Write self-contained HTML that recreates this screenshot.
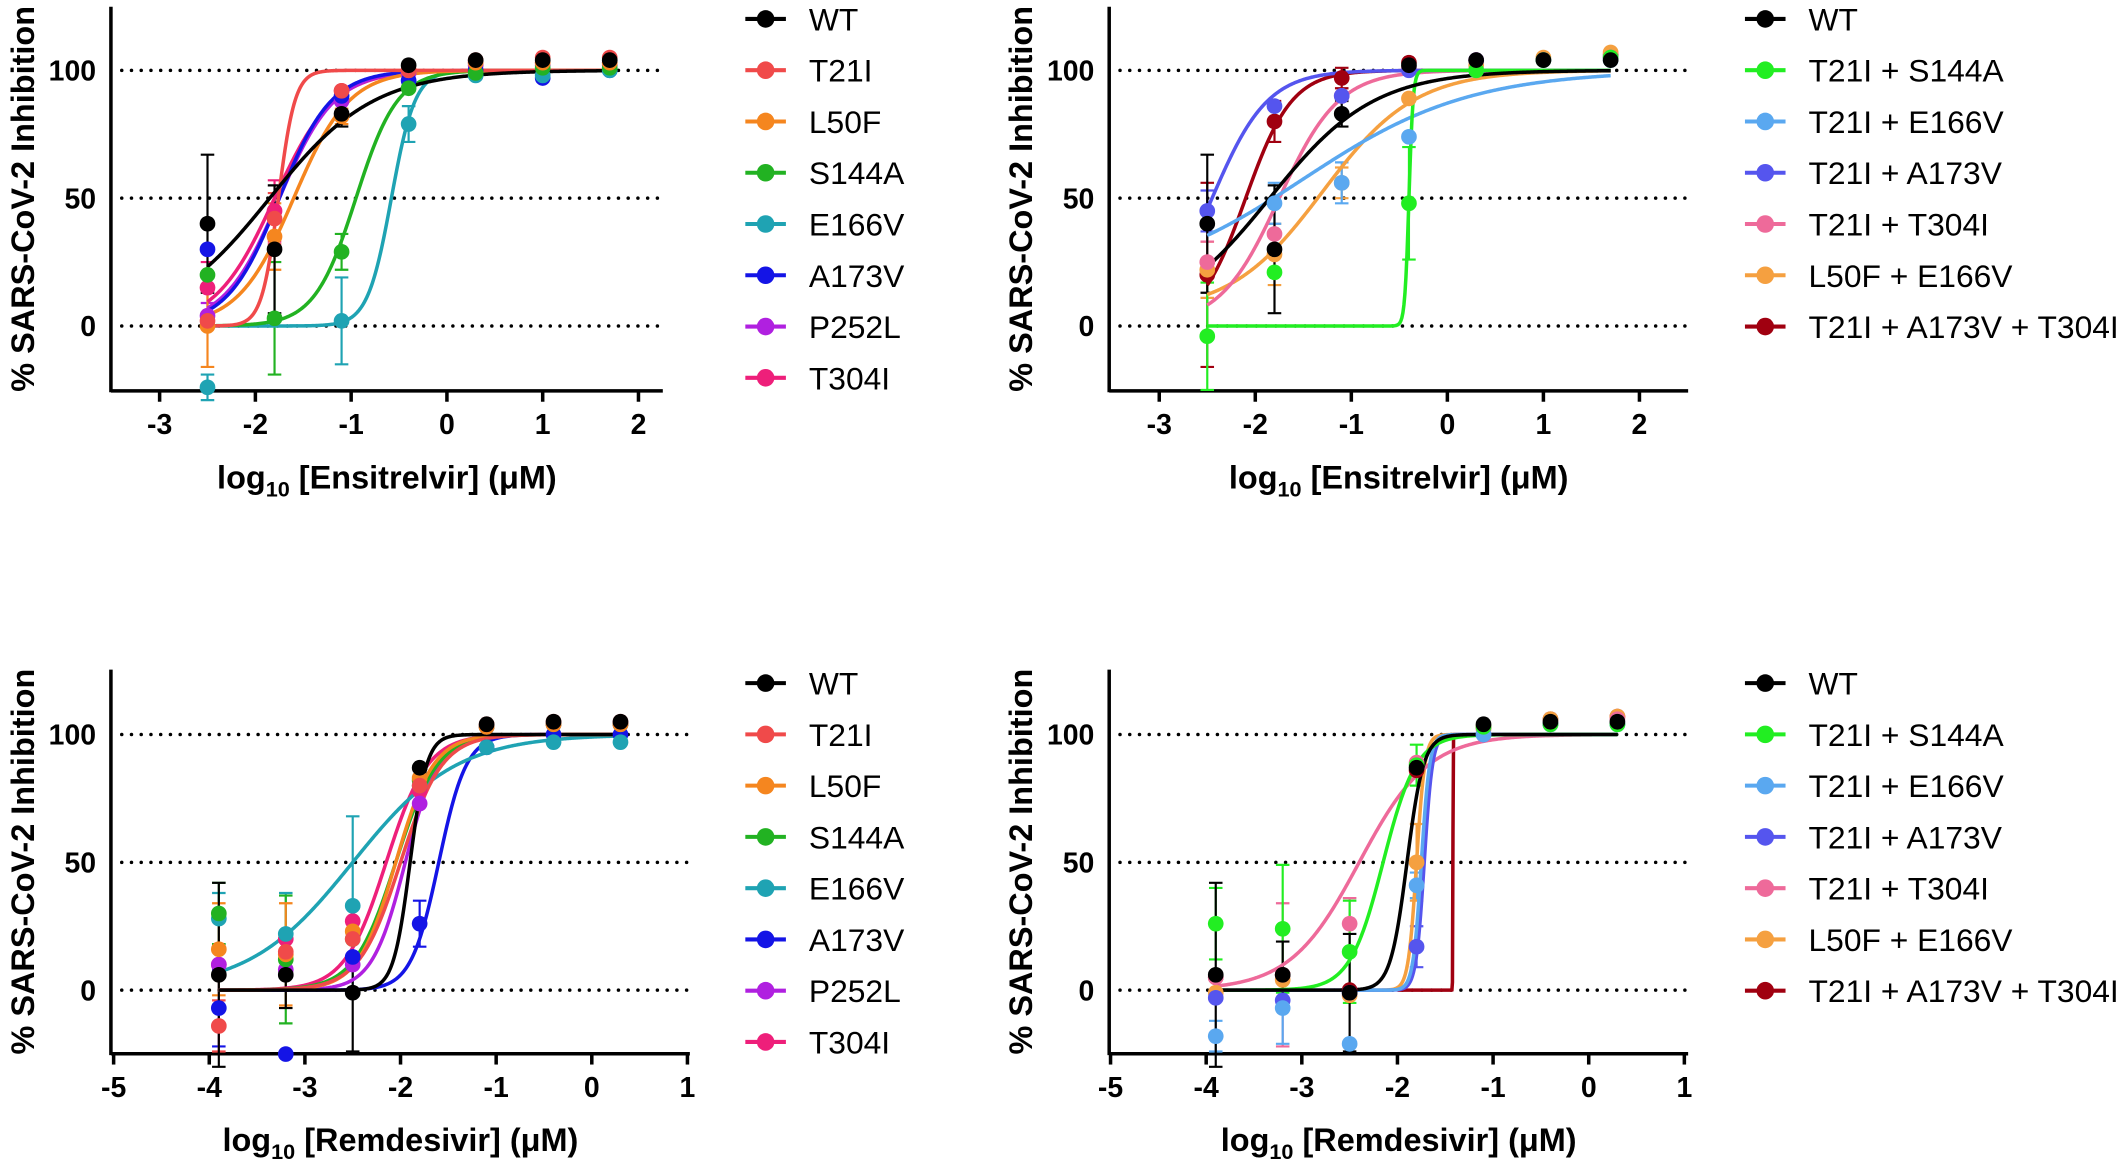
<!DOCTYPE html>
<html><head><meta charset="utf-8"><style>
html,body{margin:0;padding:0;background:#fff}
svg{display:block}
text{font-family:"Liberation Sans",Arial,sans-serif}
</style></head><body>
<svg id="s" width="2121" height="1161" viewBox="0 0 1568 858.3" xmlns="http://www.w3.org/2000/svg"></svg>
<script>
const S=document.getElementById('s');let out='';
function sig(x,b,t,e,h){return b+(t-b)/(1+Math.pow(10,(e-x)*h));}
function panel(P){
 const X=v=>P.x0+(v-P.xa)*P.xs, Y=v=>P.y100+(100-v)*(P.y0-P.y100)/100;
 [0,50,100].forEach(v=>{out+=`<line x1="${P.ax+8}" x2="${P.right}" y1="${Y(v)}" y2="${Y(v)}" stroke="#000" stroke-width="2.6" stroke-dasharray="0 7.2" stroke-linecap="round"/>`;});
 out+=`<line x1="${P.ax}" x2="${P.ax}" y1="${P.top}" y2="${P.bot+1}" stroke="#000" stroke-width="2.6"/>`;
 out+=`<line x1="${P.ax}" x2="${P.right}" y1="${P.bot}" y2="${P.bot}" stroke="#000" stroke-width="2.6"/>`;
 P.ticks.forEach(t=>{const xx=X(t);out+=`<line x1="${xx}" x2="${xx}" y1="${P.bot}" y2="${P.bot+8}" stroke="#000" stroke-width="2.6"/><text x="${xx}" y="${P.bot+32}" font-size="21" font-weight="bold" text-anchor="middle">${t}</text>`;});
 [0,50,100].forEach(v=>{out+=`<text x="${P.ax-11}" y="${Y(v)+7.5}" font-size="21" font-weight="bold" text-anchor="end">${v}</text>`;});
 out+=`<text transform="translate(${P.ax-57},${(P.top+P.bot)/2}) rotate(-90)" font-size="24" font-weight="bold" text-anchor="middle">% SARS-CoV-2 Inhibition</text>`;
 out+=`<text x="${(P.ax+P.right)/2}" y="${P.bot+72}" font-size="24" font-weight="bold" text-anchor="middle">log<tspan font-size="16" dy="6">10</tspan><tspan dy="-6"> [${P.drug}] (μM)</tspan></text>`;
 const ser=P.series.slice().reverse();
 ser.forEach(s=>{
  s.pts.forEach((p,i)=>{if(p==null||!s.err||!s.err[i])return;const e=s.err[i],xx=X(P.cx[i]);
   out+=`<path d="M${xx},${Y(p+e)}V${Y(p-e)}M${xx-5},${Y(p+e)}h10M${xx-5},${Y(p-e)}h10" stroke="${s.c}" stroke-width="1.6" fill="none"/>`;});
 });
 ser.forEach(s=>{
  let d='';const x1=s.from!=null?s.from:P.cx[0],x2=P.cx[P.cx.length-1];
  for(let k=0;k<=400;k++){const v=x1+(x2-x1)*k/400;const y=sig(v,s.b,s.t,s.e,s.h);d+=(k?'L':'M')+X(v).toFixed(2)+','+Y(y).toFixed(2);}
  out+=`<path d="${d}" stroke="${s.c}" stroke-width="2.6" fill="none"/>`;
 });
 ser.forEach(s=>{s.pts.forEach((p,i)=>{if(p==null)return;out+=`<circle cx="${X(P.cx[i])}" cy="${Y(p)}" r="5.8" fill="${s.c}"/>`;});});
 P.series.forEach((s,i)=>{const yy=P.ly+i*37.9;
  out+=`<line x1="${P.lx-15}" x2="${P.lx+15}" y1="${yy}" y2="${yy}" stroke="${s.c}" stroke-width="3"/><circle cx="${P.lx}" cy="${yy}" r="6.5" fill="${s.c}"/><text x="${P.lx+32}" y="${yy+8.5}" font-size="23.5">${s.n}</text>`;});
}
const ENS=[-2.5,-1.8,-1.1,-0.4,0.3,1.0,1.7], REM=[-3.9,-3.2,-2.5,-1.8,-1.1,-0.4,0.3];
const WTe={n:'WT',c:'#000',b:0,t:100,e:-1.85,h:0.8,pts:[40,30,83,102,104,104,104],err:[27,25,5,0,0,0,0]};
panel({ax:82,top:5,bot:289,right:490,x0:118,xa:-3,xs:70.8,y100:52,y0:241,ticks:[-3,-2,-1,0,1,2],drug:'Ensitrelvir',cx:ENS,lx:566,ly:14,series:[
 WTe,
 {n:'T21I',c:'#f04a4a',b:0,t:100,e:-1.76,h:5,pts:[2,42,92,100,104,105,105],err:[0,10,0,0,0,0,0]},
 {n:'L50F',c:'#f5861f',b:0,t:100,e:-1.6,h:1.5,pts:[0,35,82,100,103,103,103],err:[16,13,3,0,0,0,0]},
 {n:'S144A',c:'#22b222',b:0,t:100,e:-0.95,h:2,pts:[20,3,29,93,99,101,101],err:[0,22,7,0,0,0,0]},
 {n:'E166V',c:'#1fa3b3',b:0,t:100,e:-0.58,h:3.5,pts:[-24,null,2,79,98,98,100],err:[5,0,17,7,0,0,0]},
 {n:'A173V',c:'#1414e6',b:0,t:100,e:-1.75,h:1.6,pts:[30,null,90,96,100,97,100],err:[0,0,0,0,0,0,0]},
 {n:'P252L',c:'#b020e0',b:0,t:100,e:-1.75,h:1.5,pts:[4,null,88,99,102,102,102],err:[5,0,0,0,0,0,0]},
 {n:'T304I',c:'#ee1f7a',b:0,t:100,e:-1.8,h:1.4,pts:[15,45,92,100,103,103,103],err:[10,12,0,0,0,0,0]}]});
panel({ax:820,top:5,bot:289,right:1248,x0:857,xa:-3,xs:71,y100:52,y0:241,ticks:[-3,-2,-1,0,1,2],drug:'Ensitrelvir',cx:ENS,lx:1305,ly:14,series:[
 WTe,
 {n:'T21I + S144A',c:'#22ee22',b:0,t:100,e:-0.4,h:20,pts:[-4,21,null,48,100,104,105],err:[21,0,0,22,0,0,0]},
 {n:'T21I + E166V',c:'#5aa8f0',b:15,t:100,e:-1.5,h:0.5,pts:[null,48,56,74,100,104,104],err:[0,8,8,0,0,0,0]},
 {n:'T21I + A173V',c:'#5555ee',b:0,t:100,e:-2.45,h:1.5,pts:[45,86,90,100,104,104,105],err:[8,0,0,0,0,0,0]},
 {n:'T21I + T304I',c:'#ee6a9a',b:0,t:100,e:-1.75,h:1.4,pts:[25,36,90,101,104,104,105],err:[8,0,0,0,0,0,0]},
 {n:'L50F + E166V',c:'#f5a040',b:5,t:100,e:-1.3,h:0.9,pts:[22,28,56,89,102,105,107],err:[11,12,6,0,0,0,0]},
 {n:'T21I + A173V + T304I',c:'#a00010',b:0,t:100,e:-2.1,h:1.8,pts:[20,80,97,103,104,104,106],err:[36,8,4,0,0,0,0]}]});
const WTr={n:'WT',c:'#000',b:0,t:100,e:-1.9,h:5,pts:[6,6,-1,87,104,105,105],err:[36,13,23,0,0,0,0]};
panel({ax:82,top:495,bot:779,right:510,x0:84,xa:-5,xs:70.7,y100:543,y0:732,ticks:[-5,-4,-3,-2,-1,0,1],drug:'Remdesivir',cx:REM,lx:566,ly:505,series:[
 WTr,
 {n:'T21I',c:'#f04a4a',b:0,t:100,e:-2.0,h:2,pts:[-14,15,20,80,104,105,105],err:[10,0,0,0,0,0,0]},
 {n:'L50F',c:'#f5861f',b:0,t:100,e:-2.05,h:2.2,pts:[16,14,23,83,103,104,104],err:[18,20,0,0,0,0,0]},
 {n:'S144A',c:'#22b222',b:0,t:100,e:-2.05,h:2,pts:[30,12,20,82,103,104,104],err:[12,25,0,0,0,0,0]},
 {n:'E166V',c:'#1fa3b3',b:0,t:100,e:-2.5,h:0.8,pts:[28,22,33,80,95,97,97],err:[10,16,35,0,0,0,0]},
 {n:'A173V',c:'#1414e6',b:0,t:100,e:-1.6,h:3,pts:[-7,-25,13,26,95,100,100],err:[15,0,0,9,0,0,0]},
 {n:'P252L',c:'#b020e0',b:0,t:100,e:-1.95,h:2.5,pts:[10,8,10,73,103,104,104],err:[0,0,0,0,0,0,0]},
 {n:'T304I',c:'#ee1f7a',b:0,t:100,e:-2.15,h:2,pts:[10,20,27,78,103,104,104],err:[0,0,0,0,0,0,0]}]});
panel({ax:820,top:495,bot:779,right:1248,x0:821,xa:-5,xs:70.7,y100:543,y0:732,ticks:[-5,-4,-3,-2,-1,0,1],drug:'Remdesivir',cx:REM,lx:1305,ly:505,series:[
 WTr,
 {n:'T21I + S144A',c:'#22ee22',b:0,t:100,e:-2.15,h:2.5,pts:[26,24,15,88,103,104,104],err:[14,25,20,8,0,0,0]},
 {n:'T21I + E166V',c:'#5aa8f0',b:0,t:100,e:-1.75,h:10,pts:[-18,-7,-21,41,100,104,104],err:[6,14,0,5,0,0,0]},
 {n:'T21I + A173V',c:'#5555ee',b:0,t:100,e:-1.72,h:10,pts:[-3,-4,-1,17,100,104,104],err:[0,0,0,8,0,0,0]},
 {n:'T21I + T304I',c:'#ee6a9a',b:0,t:100,e:-2.4,h:1.2,pts:[5,6,26,89,102,104,106],err:[0,28,10,0,0,0,0]},
 {n:'L50F + E166V',c:'#f5a040',b:0,t:100,e:-1.8,h:10,pts:[-1,4,-2,50,103,106,107],err:[0,0,0,15,0,0,0]},
 {n:'T21I + A173V + T304I',c:'#a00010',b:0,t:100,e:-1.42,h:300,from:-2.0,pts:[5,6,0,86,103,106,107],err:[0,0,0,0,0,0,0]}]});
S.innerHTML=out;
</script>
</body></html>
